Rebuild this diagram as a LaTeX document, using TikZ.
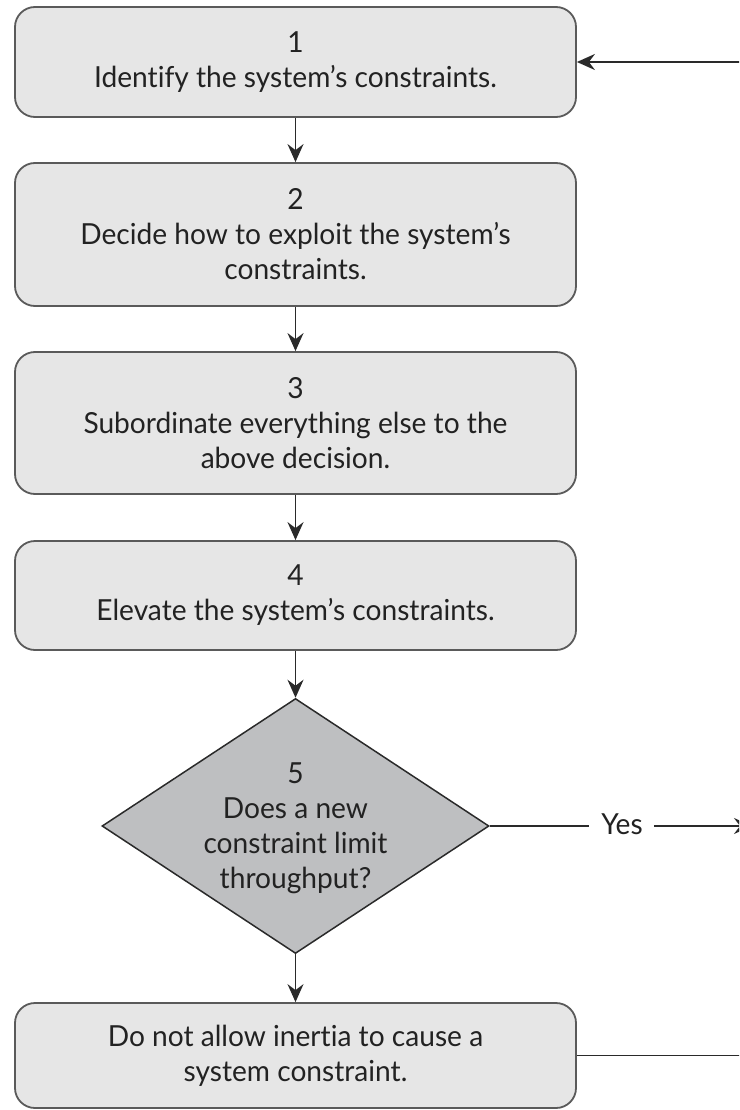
\documentclass[tikz,border=0pt]{standalone}
\usepackage{fontspec}
\setmainfont{Lato}[FakeStretch=0.97,RawFeature={-liga}]
\usetikzlibrary{shapes.geometric,arrows.meta}
\definecolor{boxfill}{HTML}{E6E6E6}
\definecolor{boxline}{HTML}{5A5A5A}
\definecolor{decfill}{HTML}{BEBFC1}
\definecolor{wire}{HTML}{2A2A2A}
\definecolor{ink}{HTML}{222222}
\begin{document}
\begin{tikzpicture}[x=1pt,y=-1pt,
  font=\fontsize{29}{35}\selectfont,
  stepbox/.style={draw=boxline,line width=1.8pt,fill=boxfill,rounded corners=20pt,
    rectangle,minimum width=561pt,inner sep=0pt,align=center,text=ink},
  decbox/.style={draw=wire,line width=1.5pt,fill=decfill,diamond,inner sep=0pt,
    minimum width=387pt,minimum height=255pt},
  wireline/.style={draw=wire,line width=1.8pt},
  arr/.style={wireline,-{Stealth[length=18pt,width=16pt,inset=6pt]}}]
\useasboundingbox (0,0) rectangle (739,1110);
\clip (0,0) rectangle (739,1110);

% process steps
\node[stepbox,minimum height=110pt] (b1) at (295.5,62)
  {1\\Identify the system’s constraints.};
\node[stepbox,minimum height=143pt] (b2) at (295.5,234.5)
  {2\\Decide how to exploit the system’s\\constraints.};
\node[stepbox,minimum height=142pt] (b3) at (295.5,423)
  {3\\Subordinate everything else to the\\above decision.};
\node[stepbox,minimum height=109pt] (b4) at (295.5,595.5)
  {4\\Elevate the system’s constraints.};

% decision
\node[decbox] (d5) at (295.5,826) {};
\node[align=center,text=ink,inner sep=0pt] (d5t) at (295.5,828)
  {5\\Does a new\\constraint limit\\throughput?};

\node[stepbox,minimum height=105pt] (b5) at (295.5,1055.5)
  {Do not allow inertia to cause a\\system constraint.};

% return line running just past the right edge
\coordinate (rx) at (752,0);
\node[text=ink,inner sep=0pt] (yes) at (622,824) {Yes};

% connectors
\draw[arr] (b1.south) -- (b2.north);
\draw[arr] (b2.south) -- (b3.north);
\draw[arr] (b3.south) -- (b4.north);
\draw[arr] (b4.south) -- (d5.north);
\draw[arr] (d5.south) -- (b5.north);
\draw[wireline] (d5.east) -- ([xshift=-12pt]yes.west |- d5.east);
\draw[arr] ([xshift=11pt]yes.east |- d5.east) -- (d5.east -| rx);
\draw[arr] (b5.east) -- (b5.east -| rx) -- (b1.east -| rx) -- (b1.east);
\end{tikzpicture}
\end{document}
